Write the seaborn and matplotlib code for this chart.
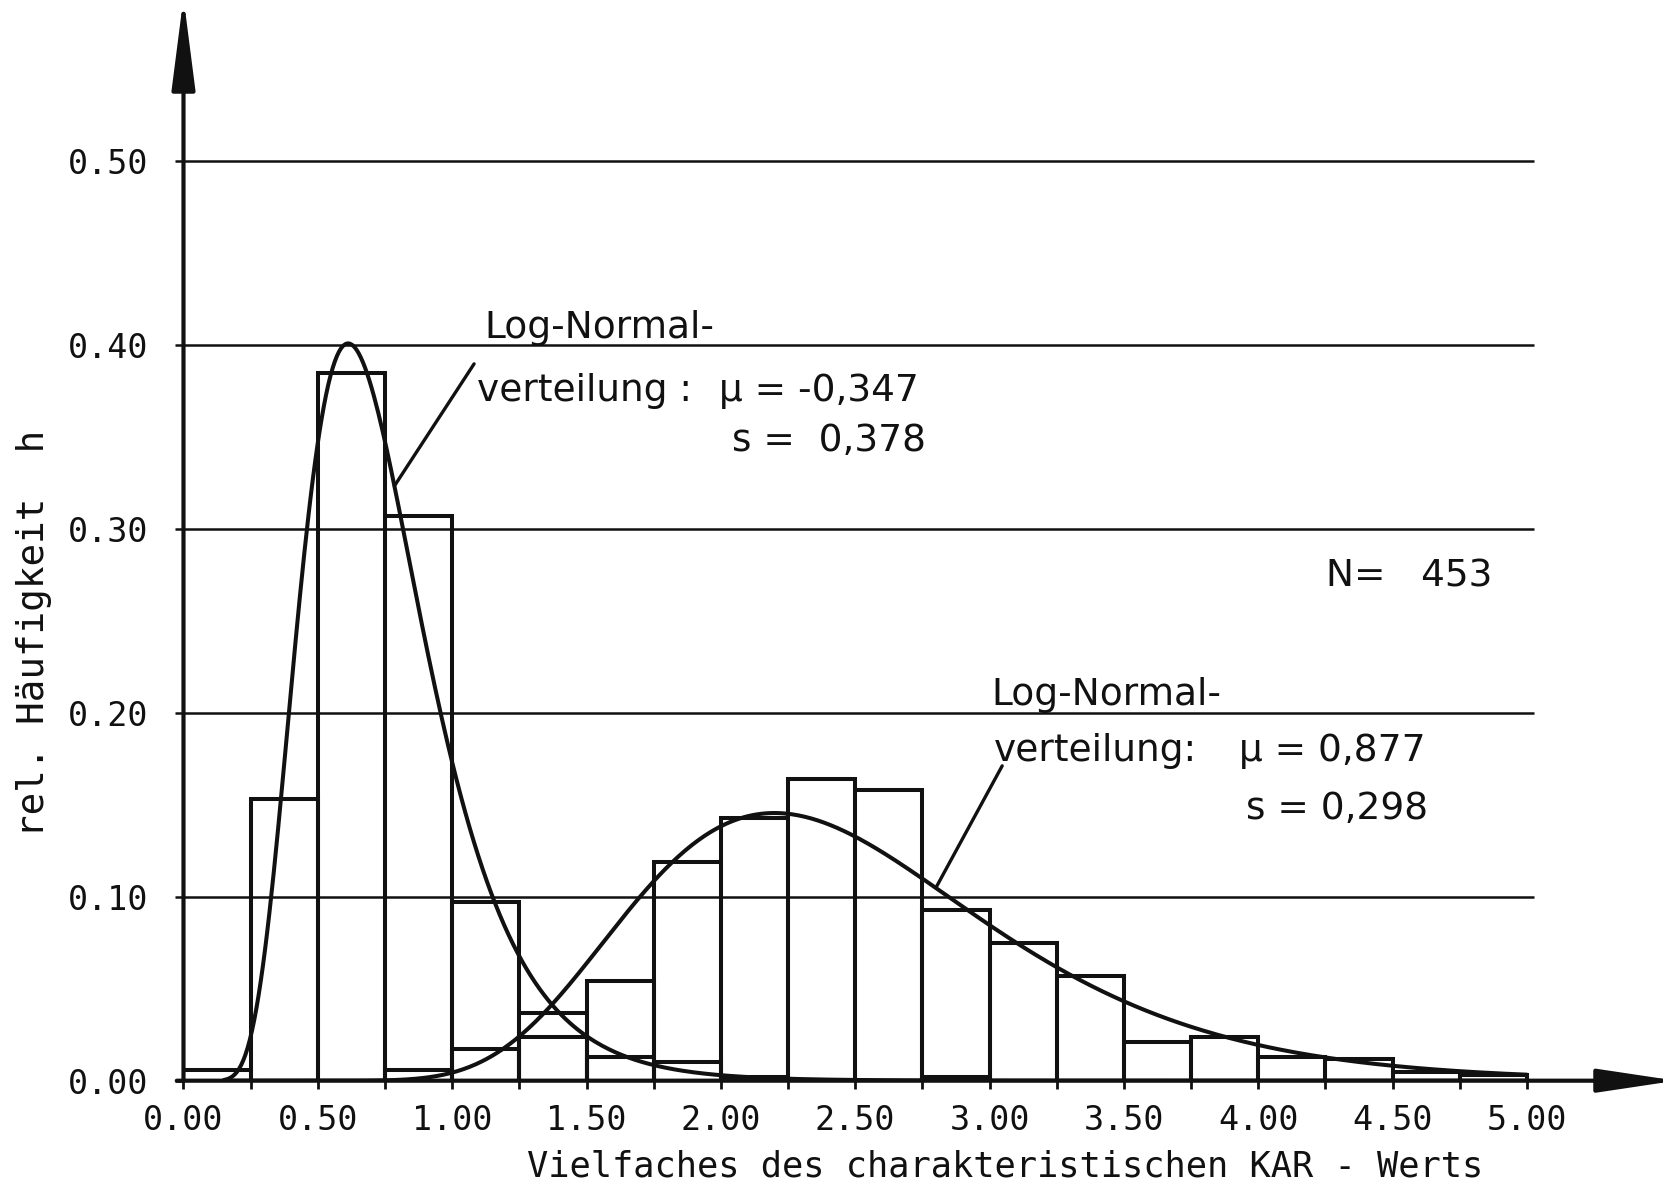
import numpy as np
import pandas as pd
import matplotlib
matplotlib.use("Agg")
import matplotlib.pyplot as plt
import seaborn as sns

# Bin edges of the histogram (class width 0.25)
bin_edges = [0.00, 0.25, 0.50, 0.75, 1.00, 1.25, 1.50, 1.75, 2.00, 2.25, 2.50,
             2.75, 3.00, 3.25, 3.50, 3.75, 4.00, 4.25, 4.50, 4.75, 5.00]

# Relative frequencies, first population (low multiples)
h_low = [0.006, 0.153, 0.385, 0.307, 0.097, 0.024, 0.013, 0.010, 0.002, 0.000,
         0.000, 0.002, 0.000, 0.000, 0.000, 0.000, 0.000, 0.000, 0.000, 0.000]

# Relative frequencies, second population (high multiples)
h_high = [0.000, 0.000, 0.000, 0.006, 0.017, 0.037, 0.054, 0.119, 0.143, 0.164,
          0.158, 0.093, 0.075, 0.057, 0.021, 0.024, 0.013, 0.012, 0.005, 0.003]

# Fitted log-normal parameters
mu_low, s_low = -0.347, 0.378
mu_high, s_high = 0.877, 0.298
n_total = 453

x_ticks = [0.00, 0.50, 1.00, 1.50, 2.00, 2.50, 3.00, 3.50, 4.00, 4.50, 5.00]
y_ticks = [0.00, 0.10, 0.20, 0.30, 0.40, 0.50]

INK = "#111111"

sns.set_style("white")
plt.rcParams["font.family"] = ["DejaVu Sans"]

edges = np.array(bin_edges)
centers = (edges[:-1] + edges[1:]) / 2
width = edges[1] - edges[0]

fig = plt.figure(figsize=(16.63, 11.88), dpi=100)
ax = fig.add_axes([0.11034, 0.09032, 0.8967, 0.9133])

# Histogram outlines of both populations
df = pd.DataFrame({"center": np.concatenate([centers, centers]),
                   "h": np.concatenate([h_low, h_high]),
                   "pop": ["low"] * len(centers) + ["high"] * len(centers)})
for pop in ["low", "high"]:
    sub = df[df["pop"] == pop]
    sns.histplot(data=sub, x="center", weights="h", bins=list(bin_edges), stat="count",
                 fill=False, element="bars", color=INK, linewidth=2.9, ax=ax)


def lognormal_class_freq(x, mu, s):
    return width * np.exp(-(np.log(x) - mu) ** 2 / (2 * s ** 2)) / (x * s * np.sqrt(2 * np.pi))


xs = np.linspace(0.15, 5.0, 600)
sns.lineplot(x=xs, y=lognormal_class_freq(xs, mu_low, s_low), color=INK, lw=2.9, ax=ax)
sns.lineplot(x=xs, y=lognormal_class_freq(xs, mu_high, s_high), color=INK, lw=2.9, ax=ax)

ax.set_xlim(0, 5.55)
ax.set_ylim(0, 0.59)
for sp in ax.spines.values():
    sp.set_visible(False)
ax.set_xlabel("")
ax.set_ylabel("")

# Horizontal grid
ax.hlines(y_ticks[1:], 0, 5.025, color=INK, lw=1.8, zorder=1)

# Axis lines with arrow heads
ax.annotate("", xy=(5.555, 0), xytext=(-0.025, 0), annotation_clip=False,
            arrowprops=dict(arrowstyle="-|>,head_length=2.4,head_width=0.36",
                            mutation_scale=20, color=INK, lw=3.0, shrinkA=0, shrinkB=0))
ax.annotate("", xy=(0, 0.589), xytext=(0, 0), annotation_clip=False,
            arrowprops=dict(arrowstyle="-|>,head_length=2.8,head_width=0.36",
                            mutation_scale=20, color=INK, lw=3.0, shrinkA=0, shrinkB=0))

# Ticks
ax.set_xticks(x_ticks)
ax.set_xticks(np.arange(0, 5.01, 0.25), minor=True)
ax.set_xticklabels([f"{v:.2f}" for v in x_ticks], family="DejaVu Sans Mono", fontsize=24, color=INK)
ax.set_yticks(y_ticks)
ax.set_yticklabels([f"{v:.2f}" for v in y_ticks], family="DejaVu Sans Mono", fontsize=24,
                   color=INK, va="center_baseline")
ax.tick_params(axis="x", which="both", direction="inout", length=12, width=2.0, color=INK, pad=11)
ax.tick_params(axis="y", which="major", direction="out", length=6, width=1.8, color=INK, pad=19)
ax.tick_params(axis="x", which="both", bottom=True)
ax.tick_params(axis="y", which="both", left=True)

# Axis titles
fig.text(0.6043, 0.0177, "Vielfaches des charakteristischen KAR - Werts",
         family="DejaVu Sans Mono", fontsize=25.5, color=INK, ha="center", va="center")
fig.text(0.0205, 0.4672, "rel. Häufigkeit  h", family="DejaVu Sans Mono", fontsize=27,
         color=INK, ha="center", va="center", rotation=90)

# Annotations of the fitted distributions
tk = dict(fontsize=27, color=INK, va="baseline", ha="left")
ax.text(1.121, 0.404, "Log-Normal-", **tk)
ax.text(1.093, 0.3697, "verteilung :", **tk)
ax.text(1.993, 0.3697, f"\u00b5 = {mu_low:.3f}".replace(".", ","), **tk)
ax.text(2.041, 0.3425, f"s =  {s_low:.3f}".replace(".", ","), **tk)

ax.text(4.251, 0.2687, f"N=   {n_total}", **tk)

ax.text(3.008, 0.2041, "Log-Normal-", **tk)
ax.text(3.016, 0.1736, "verteilung:", **tk)
ax.text(3.927, 0.1736, f"\u00b5 = {mu_high:.3f}".replace(".", ","), **tk)
ax.text(3.953, 0.1424, f"s = {s_high:.3f}".replace(".", ","), **tk)

# Leader lines from the labels to the curves
x_a = 0.785
ax.annotate("", xy=(x_a, lognormal_class_freq(x_a, mu_low, s_low)), xytext=(1.0815, 0.3898),
            arrowprops=dict(arrowstyle="-", color=INK, lw=2.4, shrinkA=0, shrinkB=0))
x_b = 2.80
ax.annotate("", xy=(x_b, lognormal_class_freq(x_b, mu_high, s_high)), xytext=(3.047, 0.1712),
            arrowprops=dict(arrowstyle="-", color=INK, lw=2.4, shrinkA=0, shrinkB=0))

fig.savefig("out.png", dpi=100, facecolor="white")
